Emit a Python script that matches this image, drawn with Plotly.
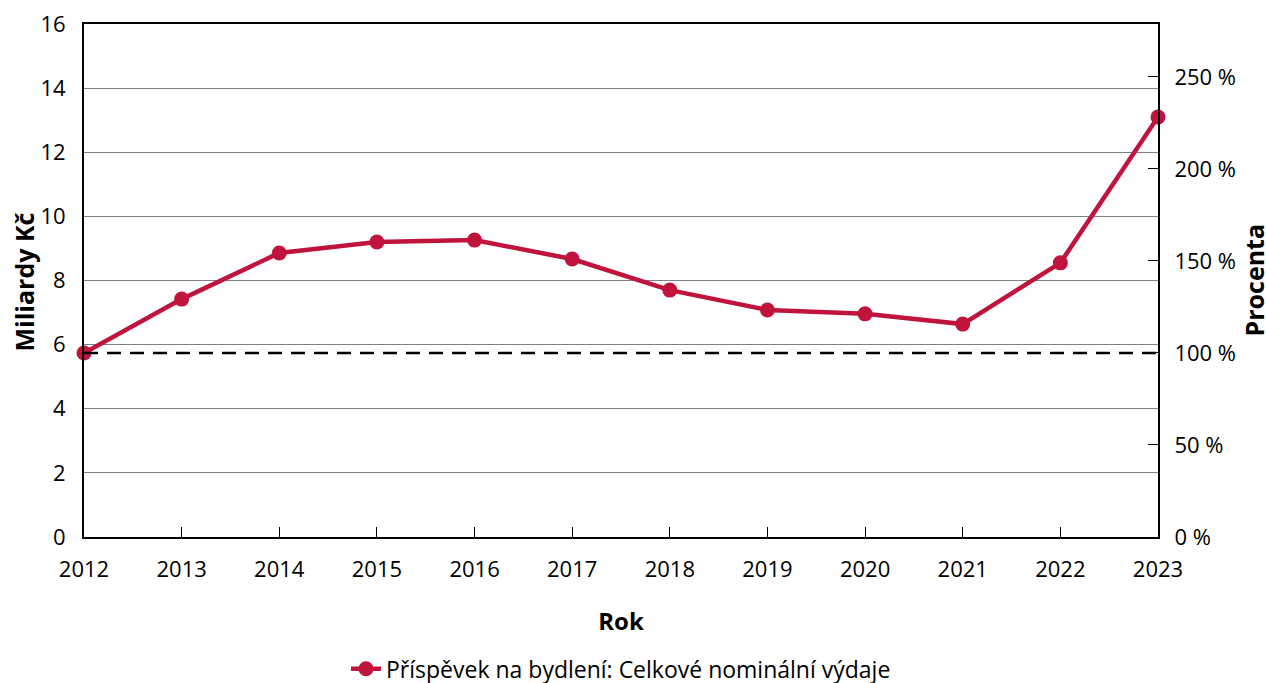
import plotly.graph_objects as go

years = [2012, 2013, 2014, 2015, 2016, 2017, 2018, 2019, 2020, 2021, 2022, 2023]
values_bn = [5.74, 7.42, 8.86, 9.20, 9.26, 8.67, 7.70, 7.08, 6.96, 6.64, 8.55, 13.10]
series_name = "Příspěvek na bydlení: Celkové nominální výdaje"
left_ticks = [0, 2, 4, 6, 8, 10, 12, 14, 16]
right_ticks = [0, 50, 100, 150, 200, 250]
right_labels = ["0 %", "50 %", "100 %", "150 %", "200 %", "250 %"]
base_pct = 100

red = "#C0143C"
font = "Open Sans"

fig = go.Figure()
fig.add_trace(go.Scatter(
    x=[years[0], years[-1]], y=[base_pct, base_pct], yaxis="y2",
    mode="lines", line=dict(color="black", width=2.5, dash="14px,9px"),
    showlegend=False, hoverinfo="skip"))
fig.add_trace(go.Scatter(
    x=years, y=values_bn, name=series_name, mode="lines+markers",
    line=dict(color=red, width=4.5), marker=dict(color=red, size=15),
    cliponaxis=False))

y2max = 16 / values_bn[0] * 100
tickfont = dict(family=font, size=22, color="black")
titlefont = dict(family=font, size=25, color="black")

fig.update_layout(
    width=1266, height=683,
    margin=dict(l=84, r=108, t=24, b=146, autoexpand=False),
    plot_bgcolor="white", paper_bgcolor="white",
    font=dict(family=font, size=19, color="black"),
    xaxis=dict(range=[2012, 2023], tickvals=years, ticks="inside", ticklen=10,
               tickcolor="black", showline=True, linecolor="black", linewidth=2,
               mirror=True, showgrid=False, zeroline=False, ticklabelstandoff=12,
               tickfont=tickfont, automargin=False, ticklabeloverflow="allow",
               title=dict(text="<b>Rok</b>", standoff=31,
                          font=dict(family=font, size=24, color="black"))),
    yaxis=dict(range=[0, 16], tickvals=left_ticks, showline=True, linecolor="black",
               linewidth=2, showgrid=True, gridcolor="#808080", gridwidth=1,
               zeroline=False, ticks="", ticklabelstandoff=12, tickfont=tickfont,
               automargin=False, ticklabeloverflow="allow"),
    yaxis2=dict(range=[0, y2max], overlaying="y", side="right",
                tickvals=right_ticks,
                ticktext=right_labels, showline=True, linecolor="black", linewidth=2,
                showgrid=False, zeroline=False, ticks="inside", ticklen=10,
                tickcolor="black", ticklabelstandoff=10, tickfont=tickfont,
                automargin=False, ticklabeloverflow="allow"),
    legend=dict(orientation="h", x=0.5, xanchor="center", y=-0.257, yanchor="middle",
                font=dict(family=font, size=23, color="black")),
    annotations=[
        dict(text="<b>Miliardy Kč</b>", xref="paper", yref="paper", x=0, y=0.5,
             xshift=-61, yshift=-2, textangle=-90, showarrow=False,
             xanchor="center", yanchor="middle", font=titlefont),
        dict(text="<b>Procenta</b>", xref="paper", yref="paper", x=1, y=0.5,
             xshift=95, textangle=-90, showarrow=False,
             xanchor="center", yanchor="middle", font=titlefont),
    ],
)

fig.write_html(
    "out.html",
    config={"displayModeBar": False},
    post_script="document.body.style.margin='0';document.body.style.overflow='hidden';",
)
